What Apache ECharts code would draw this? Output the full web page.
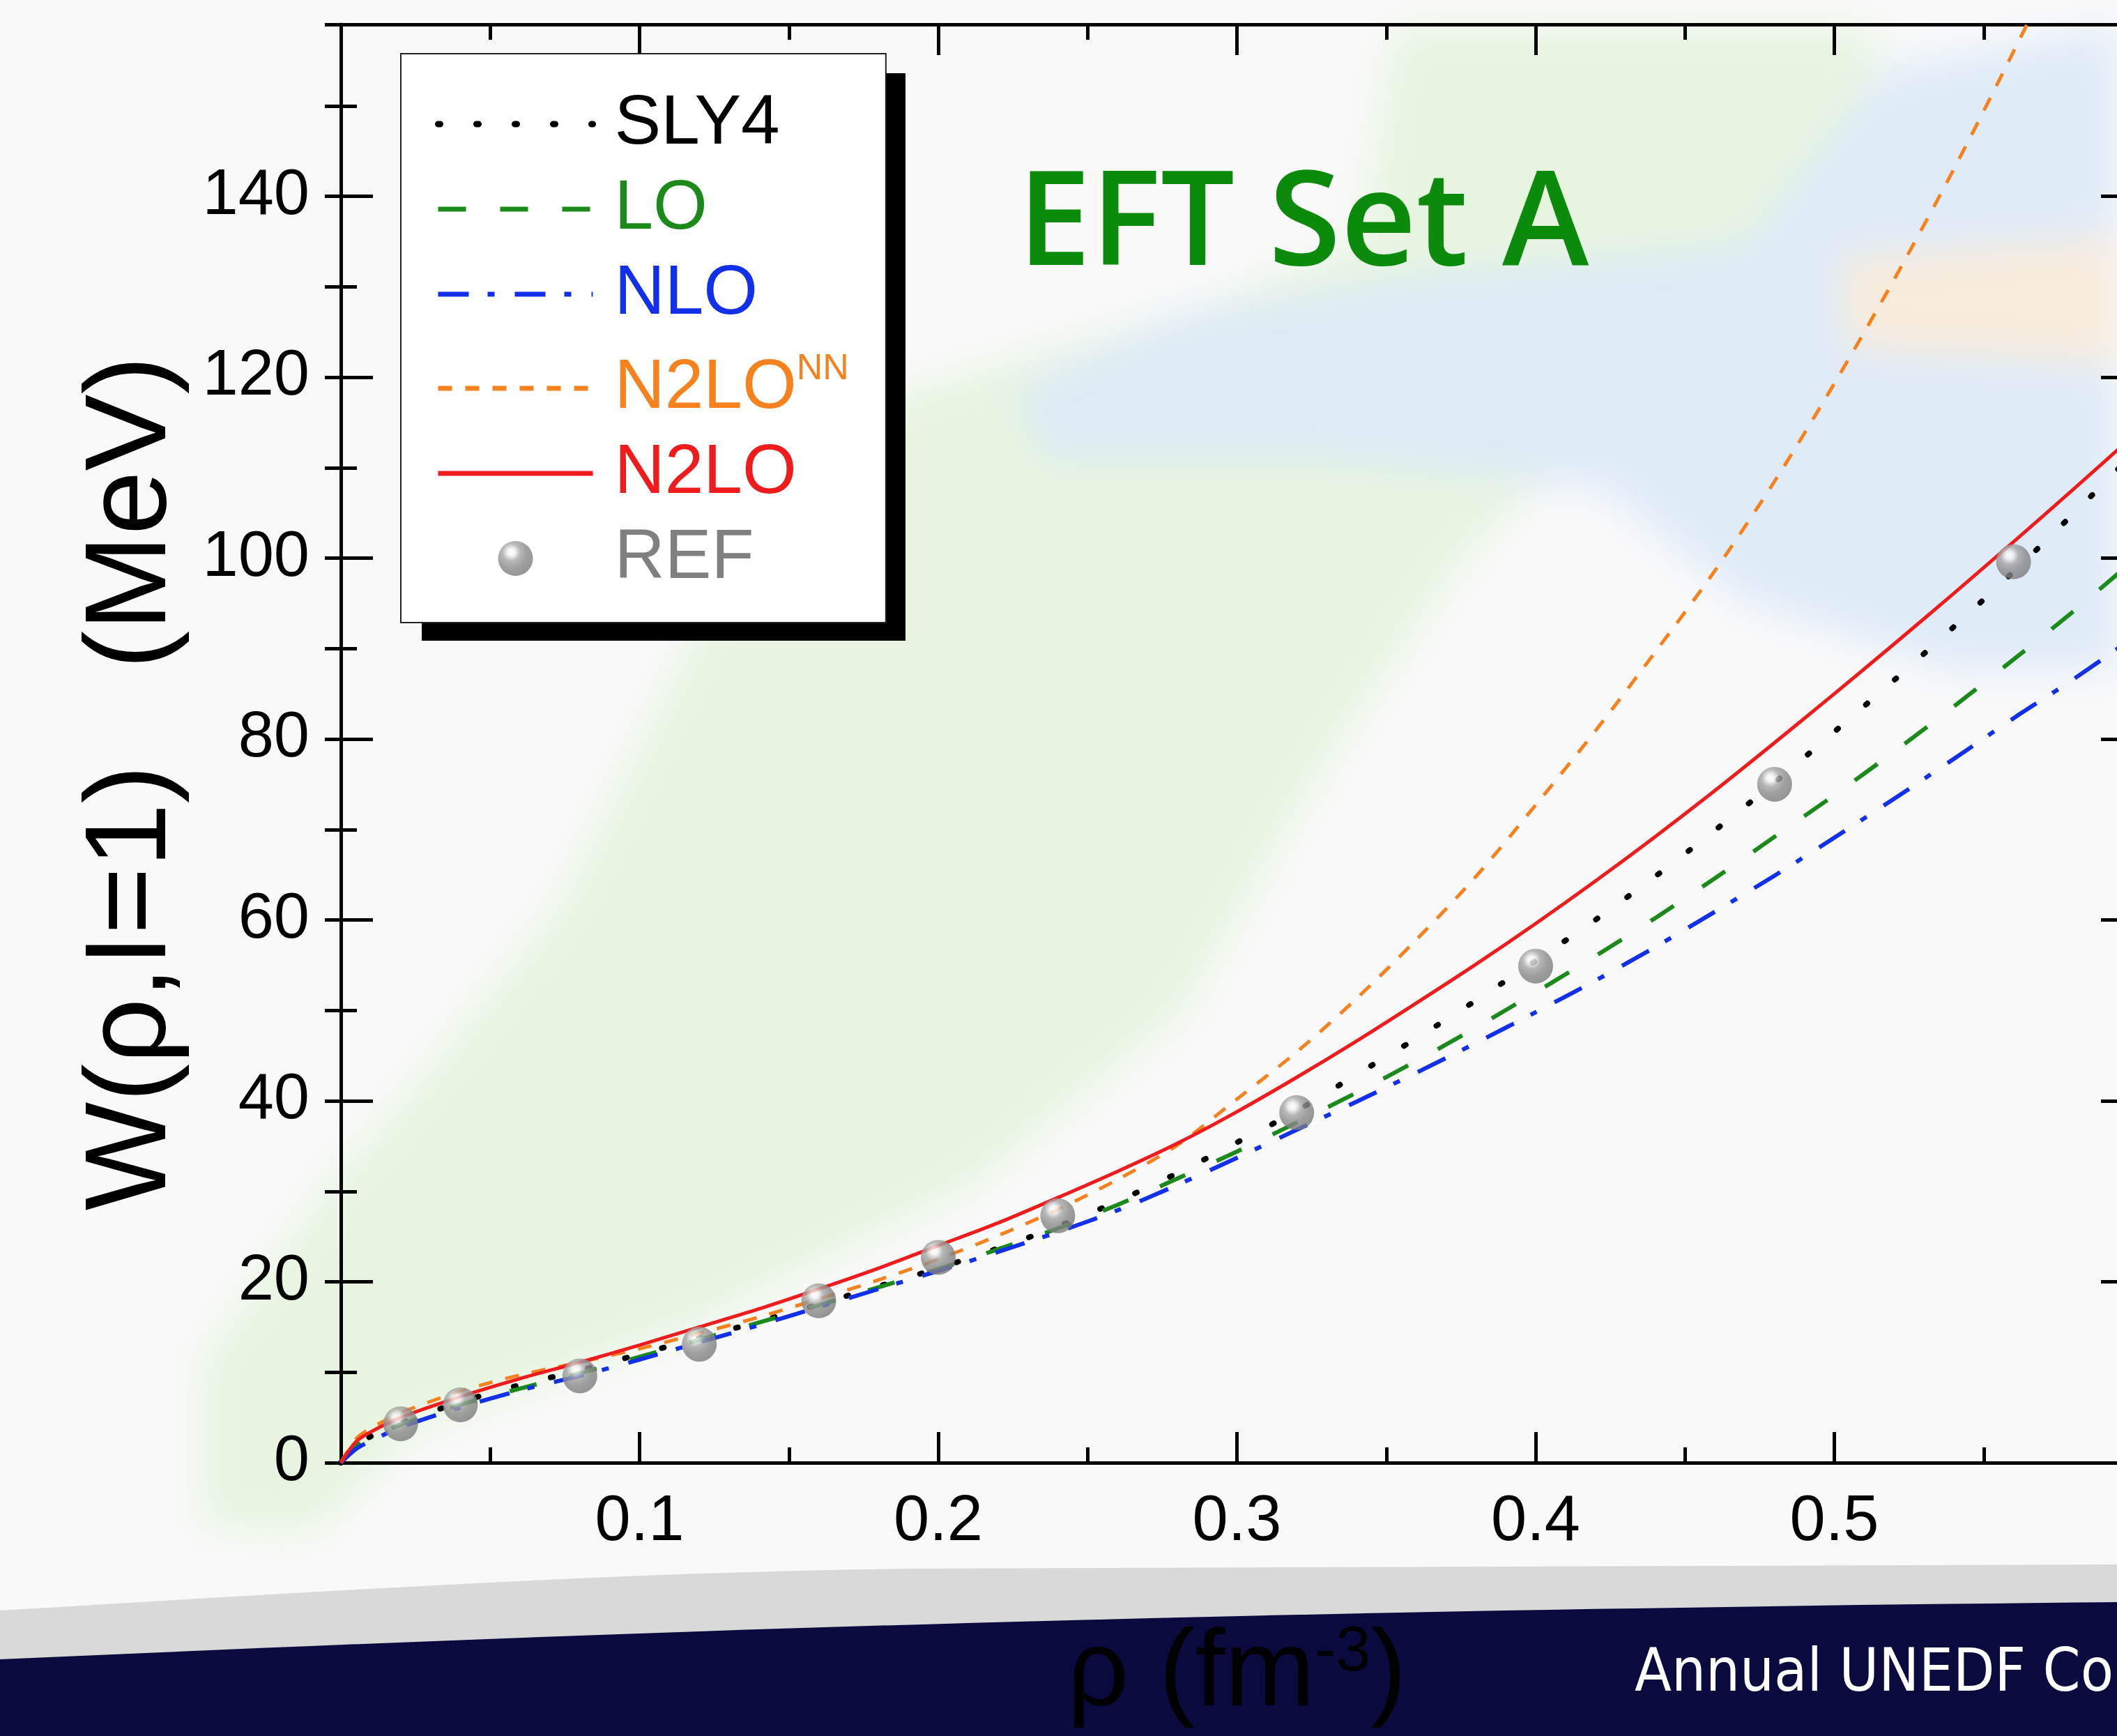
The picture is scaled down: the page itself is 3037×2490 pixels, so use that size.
<!DOCTYPE html>
<html>
<head>
<meta charset="utf-8">
<script src="https://cdn.jsdelivr.net/npm/echarts@6/dist/echarts.min.js"></script>
<style>
  html, body { margin: 0; padding: 0; background: #f9f9f9; overflow: hidden; }
  #wrap { position: relative; width: 3037px; height: 2490px; overflow: hidden; }
  #bg { position: absolute; left: 0; top: 0; }
  #chart { position: absolute; left: 0; top: 0; width: 3100px; height: 2490px; }
</style>
</head>
<body>
<div id="wrap">
<svg id="bg" width="3037" height="2490" xmlns="http://www.w3.org/2000/svg">
  <defs>
    <filter id="blur" x="-20%" y="-20%" width="140%" height="140%"><feGaussianBlur stdDeviation="28"/></filter>
  </defs>
  <rect x="0" y="0" width="3037" height="2490" fill="#f9f9f9"/>
  <g filter="url(#blur)">
    <polygon fill="#e4f4dc" opacity="0.85" points="290,2190 290,1950 470,1700 600,1550 800,1300 1000,900 1100,700 1300,560 1700,450 1950,350 2000,40 2700,40 2650,200 2400,500 2100,800 1900,1100 1700,1450 1400,1700 1000,1900 600,2050 450,2200"/>
    <polygon fill="#dceaf7" opacity="0.9" points="1450,560 1700,450 2000,400 2500,350 2700,100 3037,40 3037,960 2800,960 2500,860 2300,700 1900,660 1500,660"/>
    <polygon fill="#fbecd8" opacity="0.9" points="2640,370 3037,340 3037,520 2650,500"/>
  </g>
  <path d="M0,2310 C500,2280 900,2255 1300,2250 L3037,2244 L3037,2490 L0,2490 Z" fill="#d9d9d9"/>
  <path d="M0,2380 C800,2345 1600,2312 3037,2298 L3037,2490 L0,2490 Z" fill="#0b0a3e"/>
</svg>
<div id="chart"></div>
</div>
<script>
// ---- data ----
const rho = [0, 0.005, 0.01, 0.02, 0.04, 0.06, 0.08, 0.10, 0.12, 0.14, 0.16, 0.18, 0.20, 0.22, 0.24, 0.26, 0.28, 0.30, 0.32, 0.34, 0.36, 0.38, 0.40, 0.42, 0.44, 0.46, 0.48, 0.50, 0.52, 0.54, 0.56, 0.58, 0.60];
const sly4   = [0, 1.9, 2.9, 4.4, 6.7, 8.6, 10.2, 12.0, 13.8, 15.6, 17.5, 19.5, 21.5, 23.7, 26.1, 28.9, 32.0, 35.4, 38.9, 42.9, 46.9, 51.1, 55.5, 60.0, 64.8, 69.9, 75.2, 80.8, 86.5, 92.4, 98.5, 104.9, 111.5];
const lo     = [0, 1.8, 2.8, 4.2, 6.4, 8.2, 9.9, 11.7, 13.6, 15.5, 17.4, 19.4, 21.4, 23.6, 25.9, 28.5, 31.4, 34.4, 37.6, 40.9, 44.4, 48.1, 52.0, 56.0, 60.2, 64.6, 69.2, 73.8, 78.6, 83.6, 88.8, 94.1, 99.7];
const nlo    = [0, 1.5, 2.4, 3.9, 6.1, 8.0, 9.6, 11.4, 13.3, 15.2, 17.2, 19.2, 21.2, 23.3, 25.5, 27.9, 30.7, 33.7, 36.8, 39.9, 43.1, 46.4, 49.8, 53.3, 57.0, 60.9, 64.9, 69.1, 73.4, 77.8, 82.3, 86.6, 91.2];
const n2loNN = [0, 2.6, 3.8, 5.5, 7.9, 9.7, 11.1, 12.6, 14.3, 16.1, 18.1, 20.2, 22.5, 25.1, 28.0, 31.3, 35.1, 40.2, 45.4, 51.3, 57.8, 64.8, 72.7, 80.9, 89.6, 98.6, 108.5, 119.3, 130.8, 143.0, 156.0, 169.5, 183.5];
const n2lo   = [0, 2.3, 3.4, 5.0, 7.3, 9.3, 11.1, 13.0, 15.0, 17.0, 19.2, 21.5, 24.0, 26.5, 29.3, 32.2, 35.3, 38.8, 42.6, 46.6, 50.8, 55.1, 59.6, 64.3, 69.2, 74.3, 79.6, 85.0, 90.5, 96.1, 101.8, 107.6, 113.5];
const refRho = [0.02, 0.04, 0.08, 0.12, 0.16, 0.20, 0.24, 0.32, 0.40, 0.48, 0.56];
const refW   = [4.3, 6.4, 9.6, 13.1, 17.9, 22.7, 27.3, 38.7, 54.9, 75.0, 99.6];
const seriesNames = ['SLY4', 'LO', 'NLO', 'N2LO^NN', 'N2LO', 'REF'];
const xTickLabels = ['0.1', '0.2', '0.3', '0.4', '0.5'];
const yTickLabels = ['0', '20', '40', '60', '80', '100', '120', '140'];

// ---- build ----
const pair = (xs, ys) => xs.map((x, i) => [x, ys[i]]);
const FONT = 'Liberation Sans, Arial, sans-serif';
const C = { sly4: '#000000', lo: '#1b8a1b', nlo: '#1230e8', nn: '#f5821f', n2lo: '#ee1c1c', ref: '#808080' };

const chart = echarts.init(document.getElementById('chart'), null, { renderer: 'canvas' });

const tickStyle = { color: '#000', width: 5 };
const baseX = {
  type: 'value', min: 0, max: 0.6, interval: 0.1, gridIndex: 0,
  axisLine: { show: true, onZero: false, lineStyle: { color: '#000', width: 5 } },
  axisTick: { show: true, inside: true, length: 44, lineStyle: tickStyle },
  minorTick: { show: true, splitNumber: 2, length: 22, lineStyle: tickStyle },
  splitLine: { show: false }, minorSplitLine: { show: false }
};
const yMajor = (pos, labels) => ({
  type: 'value', min: 0, max: 159, interval: 20, position: pos, gridIndex: 0,
  axisLine: { show: true, onZero: false, lineStyle: { color: '#000', width: 5 } },
  axisTick: { show: true, inside: true, length: 46, lineStyle: tickStyle },
  splitLine: { show: false },
  axisLabel: labels ? {
    show: true, margin: 45, fontSize: 92, color: '#000', fontFamily: FONT,
    formatter: v => { const s = String(Math.round(v)); return yTickLabels.indexOf(s) >= 0 && Math.abs(v - Math.round(v)) < 1e-6 ? s : ''; }
  } : { show: false }
});
const yMinor = (pos) => ({
  type: 'value', min: 0, max: 159, interval: 10, position: pos, gridIndex: 0,
  axisLine: { show: false },
  axisTick: { show: true, inside: true, length: 23, lineStyle: tickStyle },
  splitLine: { show: false },
  axisLabel: { show: false }
});

const lineSeries = (name, ys, color, width, dash, cap, z) => ({
  name, type: 'line', data: pair(rho, ys), xAxisIndex: 0, yAxisIndex: 0,
  symbol: 'none', showSymbol: false, smooth: 0.3, clip: true, z: z,
  lineStyle: { color, width, type: dash, cap: cap || 'butt' },
  itemStyle: { color },
  emphasis: { disabled: true }
});

const hideSym = { opacity: 0 };
const option = {
  animation: false,
  backgroundColor: 'transparent',
  textStyle: { fontFamily: FONT },
  grid: { left: 489, top: 35, width: 2571, height: 2063, containLabel: false },
  legend: {
    orient: 'vertical', left: 575, top: 77, z: 6,
    padding: [51, 53, 42, 49],
    itemWidth: 222, itemHeight: 50, itemGap: 22,
    backgroundColor: '#ffffff', borderColor: '#222', borderWidth: 2,
    selectedMode: false,
    lineStyle: { width: 6 },
    textStyle: {
      fontFamily: FONT, fontSize: 100, padding: [0, 0, 0, 26],
      rich: {
        o: { color: C.nn, fontSize: 100, fontFamily: FONT, lineHeight: 126 },
        s: { color: C.nn, fontSize: 52, fontFamily: FONT, verticalAlign: 'top', lineHeight: 126, padding: [10, 0, 0, 0] }
      }
    },
    formatter: n => n === 'N2LO^NN' ? '{o|N2LO}{s|NN}' : n,
    data: [
      { name: seriesNames[0], textStyle: { color: C.sly4 }, lineStyle: { width: 9 }, itemStyle: hideSym },
      { name: seriesNames[1], textStyle: { color: C.lo }, lineStyle: { width: 7 }, itemStyle: hideSym },
      { name: seriesNames[2], textStyle: { color: C.nlo }, lineStyle: { width: 7 }, itemStyle: hideSym },
      { name: seriesNames[3], textStyle: { color: C.nn }, lineStyle: { width: 7 }, itemStyle: hideSym },
      { name: seriesNames[4], textStyle: { color: C.n2lo }, lineStyle: { width: 7 }, itemStyle: hideSym },
      { name: seriesNames[5], textStyle: { color: C.ref } }
    ]
  },
  xAxis: [
    Object.assign({}, baseX, {
      position: 'bottom',
      axisLabel: {
        show: true, margin: 40, fontSize: 92, color: '#000', fontFamily: FONT,
        formatter: v => { const s = v.toFixed(1); return xTickLabels.indexOf(s) >= 0 ? s : ''; }
      },
      name: '{a|ρ (fm}{s|-3}{a|)}', nameLocation: 'middle', nameGap: 228,
      nameTextStyle: {
        color: '#000',
        rich: {
          a: { fontSize: 155, fontFamily: FONT, color: '#000' },
          s: { fontSize: 90, fontFamily: FONT, color: '#000', verticalAlign: 'top' }
        }
      }
    }),
    Object.assign({}, baseX, { position: 'top', axisLabel: { show: false } })
  ],
  yAxis: [
    Object.assign(yMajor('left', true), {
      name: 'W(ρ,I=1)   (MeV)', nameLocation: 'middle', nameRotate: 90, nameGap: 215,
      nameTextStyle: { fontSize: 165, fontFamily: FONT, color: '#000', padding: [0, 114, 0, 0] }
    }),
    yMinor('left'),
    yMajor('right', false),
    yMinor('right')
  ],
  graphic: [
    {
      type: 'rect', z: 1, silent: true,
      shape: { x: 605, y: 105, width: 694, height: 814 },
      style: { fill: '#000000' }
    },
    {
      type: 'text', x: 1460, y: 326, z: 10, silent: true,
      style: {
        text: 'EFT Set A', fill: '#0c8a0c',
        font: '600 188px "Open Sans", "Noto Sans", sans-serif',
        verticalAlign: 'middle', align: 'left',
        shadowColor: 'rgba(0,0,0,0.5)', shadowBlur: 8, shadowOffsetX: 5, shadowOffsetY: 5
      }
    },
    {
      type: 'text', x: 2345, y: 2403, z: 10, silent: true,
      style: {
        text: 'Annual UNEDF Co', fill: '#ffffff',
        font: '86px "DejaVu Sans Condensed", "DejaVu Sans", sans-serif',
        verticalAlign: 'middle', align: 'left'
      }
    }
  ],
  series: [
    lineSeries(seriesNames[0], sly4, C.sly4, 8, [3, 52], 'round', 3),
    lineSeries(seriesNames[1], lo, C.lo, 6, [40, 49], 'butt', 3),
    lineSeries(seriesNames[2], nlo, C.nlo, 6, [44, 27, 10, 29], 'butt', 3),
    lineSeries(seriesNames[3], n2loNN, C.nn, 5, [20, 19], 'butt', 3),
    lineSeries(seriesNames[4], n2lo, C.n2lo, 5, 'solid', 'butt', 4),
    {
      name: seriesNames[5], type: 'scatter', data: pair(refRho, refW),
      xAxisIndex: 0, yAxisIndex: 0, symbol: 'circle', symbolSize: 50, z: 6,
      itemStyle: {
        color: {
          type: 'radial', x: 0.38, y: 0.32, r: 0.75,
          colorStops: [
            { offset: 0, color: '#ffffff' },
            { offset: 0.14, color: '#f2f2f2' },
            { offset: 0.34, color: '#a6a6a6' },
            { offset: 0.6, color: '#898989' },
            { offset: 1, color: '#787878' }
          ]
        }
      },
      emphasis: { disabled: true }
    }
  ]
};
chart.setOption(option);
</script>
</body>
</html>
